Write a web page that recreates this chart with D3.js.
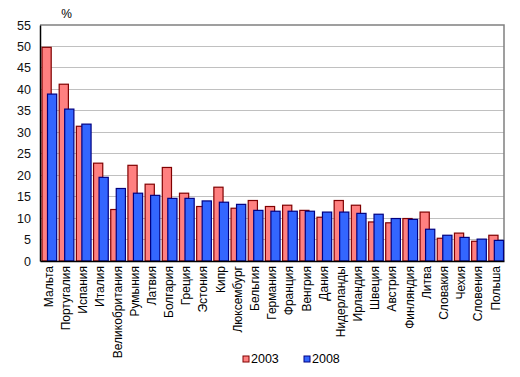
<!DOCTYPE html>
<html>
<head>
<meta charset="utf-8">
<script src="https://cdn.jsdelivr.net/npm/d3@7"></script>
<style>
  body { margin: 0; background: #fff; }
  text { font-family: "Liberation Sans", Arial, sans-serif; }
</style>
</head>
<body>
<div id="chart"></div>
<script>
// Data
const countries = ["Мальта", "Португалия", "Испания", "Италия", "Великобритания", "Румыния",
  "Латвия", "Болгария", "Греция", "Эстония", "Кипр", "Люксембург", "Бельгия", "Германия",
  "Франция", "Венгрия", "Дания", "Нидерланды", "Ирландия", "Швеция", "Австрия", "Финляндия",
  "Литва", "Словакия", "Чехия", "Словения", "Польша"];
const values2003 = [49.8, 41.2, 31.4, 22.8, 12.0, 22.3, 17.9, 21.8, 15.8, 12.7, 17.2, 12.3, 14.1, 12.7,
  13.0, 11.8, 10.2, 14.1, 13.0, 9.1, 8.9, 9.9, 11.4, 5.3, 6.5, 4.6, 6.0];
const values2008 = [38.9, 35.4, 31.9, 19.5, 16.9, 15.8, 15.3, 14.6, 14.6, 14.0, 13.7, 13.2, 11.8, 11.6,
  11.6, 11.6, 11.4, 11.4, 11.1, 10.9, 9.9, 9.7, 7.4, 6.0, 5.5, 5.1, 4.8];
const yTicks = [0, 5, 10, 15, 20, 25, 30, 35, 40, 45, 50, 55];
const seriesNames = ["2003", "2008"];

const W = 520, H = 377;
const margin = {top: 25, right: 16, bottom: 116, left: 40},
    width = W - margin.left - margin.right,
    height = H - margin.top - margin.bottom;

const svg = d3.select("#chart")
  .append("svg")
    .attr("width", W)
    .attr("height", H)
  .append("g")
    .attr("transform", `translate(${margin.left},${margin.top})`);

const x = d3.scaleBand()
    .domain(countries)
    .range([0, width])
    .paddingInner(0)
    .paddingOuter(0);

const y = d3.scaleLinear()
    .domain([0, 55])
    .range([height, 0]);

// Gridlines
svg.append("g")
  .selectAll("line")
  .data(yTicks.filter(t => t > 0 && t < 55))
  .join("line")
    .attr("x1", 0).attr("x2", width)
    .attr("y1", d => y(d)).attr("y2", d => y(d))
    .attr("stroke", "#c0c0c0")
    .attr("stroke-width", 1)
    .attr("shape-rendering", "crispEdges");

// Frame: top and right in gray
svg.append("path")
    .attr("d", `M0,${y(55)}H${width}V${height}`)
    .attr("fill", "none")
    .attr("stroke", "#808080")
    .attr("stroke-width", 1.5);

// Bars
const bw = x.bandwidth();
const barW = 9.2;
const colors = {
  "2003": {fill: "#ff8080", stroke: "#800000", off: 2},
  "2008": {fill: "#3366ff", stroke: "#000080", off: 7.5}
};

[values2003, values2008].forEach((vals, i) => {
  const c = colors[seriesNames[i]];
  svg.append("g")
    .selectAll("rect")
    .data(vals)
    .join("rect")
      .attr("x", (d, j) => x(countries[j]) + c.off)
      .attr("y", d => y(d))
      .attr("width", barW)
      .attr("height", d => y(0) - y(d))
      .attr("fill", c.fill)
      .attr("stroke", c.stroke)
      .attr("stroke-width", 1.2);
});

// Y axis
const yAxis = svg.append("g")
    .call(d3.axisLeft(y).tickValues(yTicks).tickSize(0).tickPadding(9));
yAxis.select(".domain").attr("stroke", "#000").attr("stroke-width", 1.5);
yAxis.selectAll("text")
    .attr("font-size", "12.5px")
    .attr("fill", "#111");

// X axis
const xAxis = svg.append("g")
    .attr("transform", `translate(0,${height})`)
    .call(d3.axisBottom(x).tickSize(0).tickPadding(6));
xAxis.select(".domain").attr("stroke", "#000").attr("stroke-width", 1.5);
xAxis.selectAll("text")
    .attr("font-size", "12px")
    .attr("fill", "#000")
    .attr("text-anchor", "end")
    .attr("dy", "0.35em")
    .attr("transform", "translate(0,5) rotate(-90)")
    .attr("x", 0)
    .attr("y", 0);

// Unit label
svg.append("text")
    .attr("x", 26.5)
    .attr("y", -7)
    .attr("text-anchor", "middle")
    .attr("font-size", "12px")
    .text("%");

// Legend
const legend = [{name: "2003", x: 203}, {name: "2008", x: 264}];
legend.forEach(l => {
  const c = colors[l.name];
  svg.append("rect")
      .attr("x", l.x)
      .attr("y", 331)
      .attr("width", 6)
      .attr("height", 6)
      .attr("fill", c.fill)
      .attr("stroke", c.stroke);
  svg.append("text")
      .attr("x", l.x + 8)
      .attr("y", 338)
      .attr("font-size", "12.5px")
      .text(l.name);
});
</script>
</body>
</html>
